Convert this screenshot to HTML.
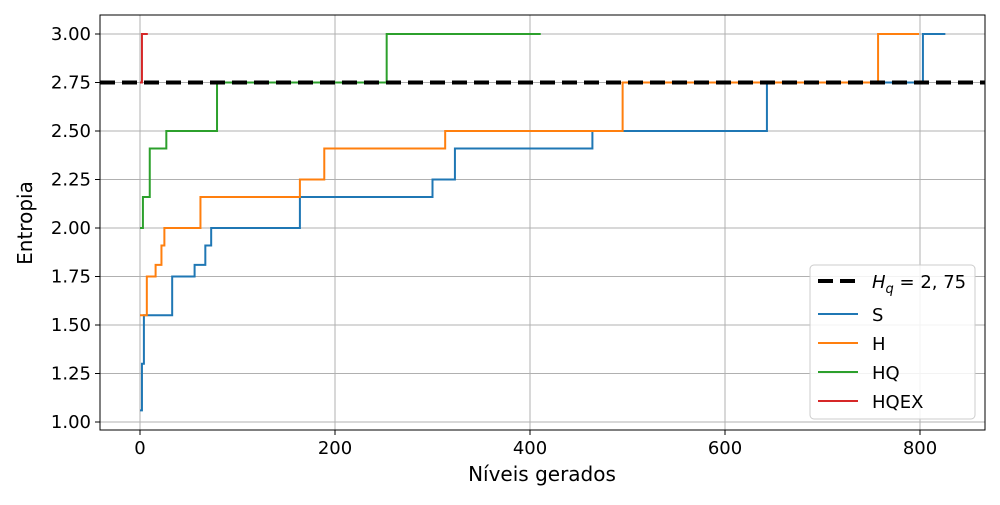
<!DOCTYPE html>
<html><head><meta charset="utf-8"><style>
body{margin:0;background:#fff;font-family:"Liberation Sans","DejaVu Sans",sans-serif}
svg text{font-family:"DejaVu Sans","Liberation Sans",sans-serif}
</style></head><body>
<svg id="c" width="1000" height="500" xmlns="http://www.w3.org/2000/svg"></svg>
<script>
const sX=[0,2,4,33,56,67,73,164,300,323,464,643,803,826];
const sY=[1.06,1.30,1.55,1.75,1.81,1.91,2.00,2.16,2.25,2.41,2.50,2.75,3.00,3.00];
const hX=[0,7,16,22,25,62,164,189,313,495,757,799];
const hY=[1.55,1.75,1.81,1.91,2.00,2.16,2.25,2.41,2.50,2.75,3.00,3.00];
const hqX=[0,3,10,27,79,253,411];
const hqY=[2.00,2.16,2.41,2.50,2.75,3.00,3.00];
const hqexX=[0,2,8];
const hqexY=[2.75,3.00,3.00];
const xTicks=[0,200,400,600,800];
const yTicks=[1.00,1.25,1.50,1.75,2.00,2.25,2.50,2.75,3.00];
const Hq=2.75;
const NS="http://www.w3.org/2000/svg";
const svg=document.getElementById('c');
const L=100,R=985,T=15,B=430;
const xs=v=>140+v*0.975;
const ys=v=>34+(3-v)*194;
function el(t,a,p){const e=document.createElementNS(NS,t);for(const k in a)e.setAttribute(k,a[k]);(p||svg).appendChild(e);return e;}
xTicks.forEach(t=>{
 const g=el('line',{x1:xs(t),x2:xs(t),y1:T,y2:B,stroke:'#b0b0b0','stroke-width':1});
 
 
 el('line',{x1:xs(t),x2:xs(t),y1:B,y2:B+5,stroke:'#000'});
 const tx=el('text',{x:xs(t),y:B+24,'text-anchor':'middle','font-size':18});
 tx.textContent=t;
 
 
});
yTicks.forEach(t=>{
 const g=el('line',{x1:L,x2:R,y1:ys(t),y2:ys(t),stroke:'#b0b0b0','stroke-width':1});
 
 
 el('line',{x1:L-5,x2:L,y1:ys(t),y2:ys(t),stroke:'#000'});
 const tx=el('text',{x:L-9,y:ys(t)+6,'text-anchor':'end','font-size':18});
 tx.textContent=t.toFixed(2);
 
 
});
function series(X,Y,color,name){
 let d='M'+xs(X[0])+','+ys(Y[0]);
 for(let i=1;i<X.length;i++){d+=' L'+xs(X[i])+','+ys(Y[i-1])+' L'+xs(X[i])+','+ys(Y[i]);}
 const p=el('path',{d:d,fill:'none',stroke:color,'stroke-width':2});
 
 
}
series(sX,sY,'#1f77b4','series-s');
series(hX,hY,'#ff7f0e','series-h');
series(hqX,hqY,'#2ca02c','series-hq');
series(hqexX,hqexY,'#d62728','series-hqex');
const hl=el('line',{x1:L,x2:R,y1:ys(Hq),y2:ys(Hq),stroke:'#000','stroke-width':4,'stroke-dasharray':'15,7'});


el('rect',{x:L,y:T,width:R-L,height:B-T,fill:'none',stroke:'#000','stroke-width':1});
</script>
<svg width="1000" height="500" style="position:absolute;left:0;top:0" xmlns="http://www.w3.org/2000/svg">
<text x="542" y="481" text-anchor="middle" font-size="20">Níveis gerados</text>
<text transform="translate(32,223) rotate(-90)" text-anchor="middle" font-size="20">Entropia</text>
<g>
<rect x="810" y="265" width="165" height="154" rx="4" fill="#fff" fill-opacity="0.85" stroke="#ccc"/>
<g><line x1="818" x2="858" y1="281" y2="281" stroke="#000" stroke-width="4" stroke-dasharray="15,7"/><text x="872" y="288" font-size="18" font-style="italic">H<tspan font-size="13" dy="5">q</tspan><tspan font-style="normal" dy="-5"> = 2, 75</tspan></text></g>
<g><line x1="818" x2="858" y1="314" y2="314" stroke="#1f77b4" stroke-width="2"/><text x="872" y="321" font-size="18">S</text></g>
<g><line x1="818" x2="858" y1="343" y2="343" stroke="#ff7f0e" stroke-width="2"/><text x="872" y="350" font-size="18">H</text></g>
<g><line x1="818" x2="858" y1="372" y2="372" stroke="#2ca02c" stroke-width="2"/><text x="872" y="379" font-size="18">HQ</text></g>
<g><line x1="818" x2="858" y1="401" y2="401" stroke="#d62728" stroke-width="2"/><text x="872" y="408" font-size="18">HQEX</text></g>
</g>
</svg>
</body></html>
